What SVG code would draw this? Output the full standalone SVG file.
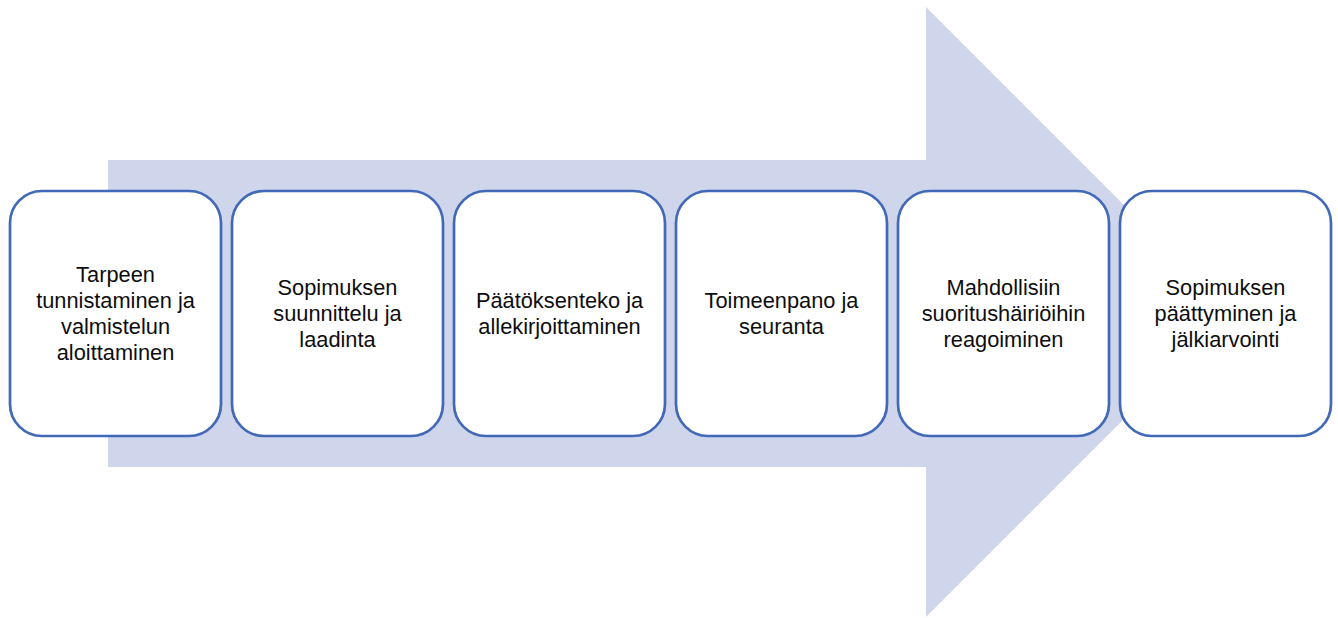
<svg xmlns="http://www.w3.org/2000/svg" width="1338" height="618" viewBox="0 0 1338 618">
<style>
.box{fill:#ffffff;stroke:#4169B8;stroke-width:2.7}
.lbl{font-family:"Liberation Sans",Arial,sans-serif;font-size:21.8px;fill:#0d0d0d;text-anchor:middle}
</style>
<rect width="1338" height="618" fill="#ffffff"/>
<g id="arrow">
<polygon points="108,160 926,160 926,7 1231,312 926,617 926,467 108,467" fill="#CFD5EA"/>
</g>
<g id="connectors"></g>
<g id="n1">
<rect class="box" x="10" y="191" width="211" height="245" rx="32"/>
<text class="lbl"><tspan x="115.5" y="281.5">Tarpeen</tspan><tspan x="115.5" y="307.8">tunnistaminen ja</tspan><tspan x="115.5" y="334.1">valmistelun</tspan><tspan x="115.5" y="360.4">aloittaminen</tspan></text>
</g>
<g id="n2">
<rect class="box" x="232" y="191" width="211" height="245" rx="32"/>
<text class="lbl"><tspan x="337.5" y="294.7">Sopimuksen</tspan><tspan x="337.5" y="321">suunnittelu ja</tspan><tspan x="337.5" y="347.3">laadinta</tspan></text>
</g>
<g id="n3">
<rect class="box" x="454" y="191" width="211" height="245" rx="32"/>
<text class="lbl"><tspan x="559.5" y="307.6">Päätöksenteko ja</tspan><tspan x="559.5" y="333.9">allekirjoittaminen</tspan></text>
</g>
<g id="n4">
<rect class="box" x="676" y="191" width="211" height="245" rx="32"/>
<text class="lbl"><tspan x="781.5" y="307.6">Toimeenpano ja</tspan><tspan x="781.5" y="333.9">seuranta</tspan></text>
</g>
<g id="n5">
<rect class="box" x="898" y="191" width="211" height="245" rx="32"/>
<text class="lbl"><tspan x="1003.5" y="294.7">Mahdollisiin</tspan><tspan x="1003.5" y="321">suoritushäiriöihin</tspan><tspan x="1003.5" y="347.3">reagoiminen</tspan></text>
</g>
<g id="n6">
<rect class="box" x="1120" y="191" width="211" height="245" rx="32"/>
<text class="lbl"><tspan x="1225.5" y="294.7">Sopimuksen</tspan><tspan x="1225.5" y="321">päättyminen ja</tspan><tspan x="1225.5" y="347.3">jälkiarvointi</tspan></text>
</g>
</svg>
